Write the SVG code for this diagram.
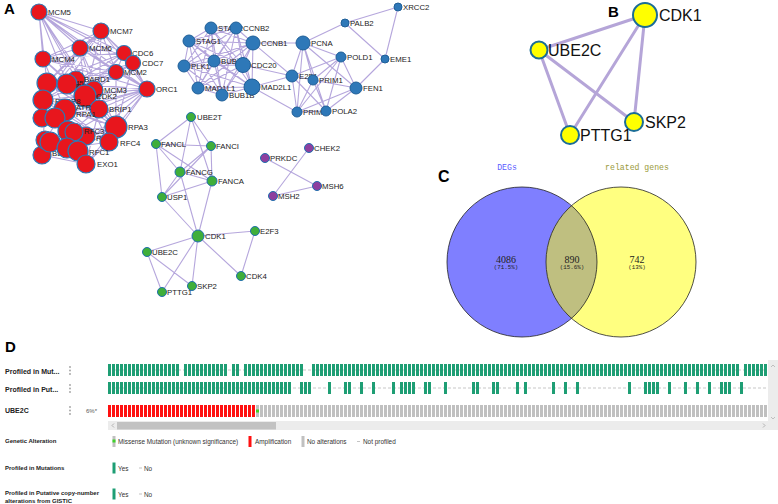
<svg xmlns="http://www.w3.org/2000/svg" width="778" height="504" viewBox="0 0 778 504">
<style>
.lbl{font-family:"Liberation Sans",Arial,sans-serif;font-size:7.8px;fill:#222}
.pl{font-family:"Liberation Sans",Arial,sans-serif;font-weight:bold;fill:#000}
.e{stroke:#9c88d0;stroke-width:1.1;fill:none;stroke-opacity:.75}
.rn{fill:#e8161d;stroke:#2b78b5;stroke-width:1.2}
.bn{fill:#2e78b8;stroke:#1f5f98;stroke-width:1}
.gn{fill:#3fae3a;stroke:#1f6fae;stroke-width:1}
.pn{fill:#8d3f9f;stroke:#1f6fae;stroke-width:1}
.bl{font-family:"Liberation Sans",Arial,sans-serif;font-size:16px;fill:#111}
.yn{fill:#ffff00;stroke:#1b6d96;stroke-width:2}
.be{stroke:#b5a5d8;stroke-width:3;fill:none}
.row{font-family:"Liberation Sans",Arial,sans-serif;font-size:7px;font-weight:bold;fill:#222}
.lg{font-family:"Liberation Sans",Arial,sans-serif;font-size:6.4px;fill:#333}
.lgb{font-family:"Liberation Sans",Arial,sans-serif;font-size:6px;font-weight:bold;fill:#222}
.vn{font-family:"Liberation Serif","Times New Roman",serif;font-size:10px;fill:#222;text-anchor:middle}
.vp{font-family:"Liberation Mono","Courier New",monospace;font-size:5.8px;fill:#222;text-anchor:middle}
.dash{stroke:#b0b0b0;stroke-width:.7;stroke-dasharray:3 2}
.dot{fill:#a0a0a0}
</style>
<defs>
<pattern id="pg" patternUnits="userSpaceOnUse" x="108" y="0" width="4" height="504"><rect width="3" height="504" fill="#1e9e74"/></pattern>
<pattern id="pr" patternUnits="userSpaceOnUse" x="108" y="0" width="4" height="504"><rect width="3" height="504" fill="#ff1010"/></pattern>
<pattern id="pk" patternUnits="userSpaceOnUse" x="108" y="0" width="4" height="504"><rect width="3" height="504" fill="#c0c0c0"/></pattern>
<clipPath id="cl"><circle cx="522" cy="262" r="75"/></clipPath>
</defs>
<rect width="778" height="504" fill="#fff"/>

<!-- Panel letters -->
<text class="pl" x="4" y="14" font-size="15">A</text>
<text class="pl" x="608" y="17" font-size="15">B</text>
<text class="pl" x="438" y="182" font-size="16">C</text>
<text class="pl" x="5" y="352" font-size="15">D</text>

<!-- Panel A connectors -->
<g id="connectors-A">
<path class="e" d="M39 12L101 31M39 12L80 48M39 12L43 59M39 12L124 53M39 12L133 63M39 12L116 72M39 12L147 89M39 12L47 83M39 12L67 83M39 12L85 95M39 12L99 109M39 12L116 127M101 31L80 48M101 31L43 59M101 31L124 53M101 31L133 63M101 31L116 72M101 31L147 89M101 31L47 83M101 31L67 83M101 31L85 95M101 31L43 100M101 31L99 109M80 48L43 59M80 48L124 53M80 48L116 72M80 48L147 89M80 48L47 83M80 48L85 95M80 48L43 100M80 48L99 109M80 48L116 127M43 59L124 53M43 59L116 72M43 59L147 89M43 59L85 95M43 59L99 109M43 59L116 127M43 59L65 110M124 53L133 63M124 53L116 72M124 53L147 89M124 53L47 83M124 53L85 95M124 53L43 100M124 53L65 110M133 63L116 72M133 63L147 89M133 63L67 83M133 63L65 110M133 63L116 127M116 72L147 89M116 72L47 83M116 72L85 95M116 72L43 100M116 72L55 117M116 72L116 127M147 89L47 83M147 89L67 83M147 89L85 95M147 89L43 100M147 89L65 110M147 89L99 109M147 89L55 117M147 89L116 127M147 89L109 142M147 89L74 132M147 89L78 150M147 89L86 164M116 127L85 95M116 127L65 110M116 127L43 100M116 127L68 131M116 127L86 136M116 127L109 142M116 127L78 150M116 127L86 164M116 127L42 155M116 127L47 83M109 142L86 164M109 142L65 110M109 142L67 148M109 142L43 100M109 142L85 95M99 109L42 118M99 109L42 155M99 109L47 83M86 164L42 155M86 164L65 110M86 164L43 100M86 164L99 109M47 83L42 155M43 100L99 109M65 110L45 140M85 95L42 118"/>
<path class="e" d="M211 28L236 28M211 28L189 41M211 28L253 43M211 28L184 66M211 28L214 61M211 28L243 65M211 28L198 88M211 28L222 95M211 28L252 87M236 28L189 41M236 28L253 43M236 28L184 66M236 28L214 61M236 28L243 65M236 28L198 88M236 28L222 95M236 28L252 87M189 41L253 43M189 41L184 66M189 41L214 61M189 41L243 65M189 41L198 88M189 41L222 95M189 41L252 87M253 43L184 66M253 43L214 61M253 43L243 65M253 43L198 88M253 43L222 95M253 43L252 87M184 66L214 61M184 66L243 65M184 66L198 88M184 66L222 95M184 66L252 87M214 61L243 65M214 61L198 88M214 61L222 95M214 61L252 87M243 65L198 88M243 65L222 95M243 65L252 87M198 88L222 95M198 88L252 87M222 95L252 87"/>
<path class="e" d="M303 43L253 43M303 43L292 76M303 43L313 80M303 43L297 112M303 43L326 111M303 43L356 88M303 43L341 57M303 43L345 23M292 76L313 80M292 76L297 112M292 76L326 111M292 76L356 88M292 76L341 57M292 76L252 87M292 76L243 65M292 76L253 43M313 80L356 88M313 80L297 112M313 80L326 111M313 80L341 57M341 57L356 88M341 57L326 111M341 57L297 112M356 88L326 111M356 88L297 112M356 88L385 59M297 112L326 111M252 87L297 112M345 23L398 7M345 23L385 59M398 7L385 59"/>
<path class="e" d="M191 117L156 144M191 117L211 146M191 117L180 172M191 117L212 181M156 144L211 146M156 144L180 172M156 144L212 181M156 144L162 197M211 146L180 172M211 146L212 181M211 146L162 197M180 172L212 181M180 172L162 197M180 172L198 236M212 181L162 197M212 181L198 236M162 197L198 236M198 236L255 231M198 236L147 252M198 236L192 286M198 236L162 292M198 236L241 276M255 231L241 276M147 252L162 292M147 252L192 286"/>
<path class="e" d="M265 158L317 186M309 148L273 196M273 196L317 186"/>
</g>

<!-- Red cluster -->
<g id="n-MCM5"><circle class="rn" cx="39" cy="12" r="8"/><text class="lbl" x="48" y="15">MCM5</text></g>
<g id="n-MCM7"><circle class="rn" cx="101" cy="31" r="8"/><text class="lbl" x="110" y="34">MCM7</text></g>
<g id="n-MCM6"><circle class="rn" cx="80" cy="48" r="8"/><text class="lbl" x="89" y="51">MCM6</text></g>
<g id="n-MCM4"><circle class="rn" cx="43" cy="59" r="8"/><text class="lbl" x="52" y="62">MCM4</text></g>
<g id="n-CDC6"><circle class="rn" cx="124" cy="53" r="7.5"/><text class="lbl" x="132" y="56">CDC6</text></g>
<g id="n-CDC7"><circle class="rn" cx="133" cy="63" r="7.5"/><text class="lbl" x="142" y="66">CDC7</text></g>
<g id="n-MCM2"><circle class="rn" cx="116" cy="72" r="7.5"/><text class="lbl" x="124" y="75">MCM2</text></g>
<g id="n-ORC1"><circle class="rn" cx="147" cy="89" r="8"/><text class="lbl" x="156" y="92">ORC1</text></g>
<g id="n-BARD1"><circle class="rn" cx="76" cy="80" r="9"/><text class="lbl" x="84" y="82">BARD1</text></g>
<g id="n-CDC45"><circle class="rn" cx="47" cy="83" r="10"/><text class="lbl" x="58" y="86">CDC45</text></g>
<g id="n-DBF4"><circle class="rn" cx="67" cy="84" r="10"/><text class="lbl" x="76" y="89">DBF4</text></g>
<g id="n-MCM3"><circle class="rn" cx="94" cy="90" r="9"/><text class="lbl" x="104" y="93">MCM3</text></g>
<g id="n-CDK2"><circle class="rn" cx="85" cy="96" r="11"/><text class="lbl" x="96" y="99">CDK2</text></g>
<g id="n-RBBP8"><circle class="rn" cx="43" cy="100" r="10"/><text class="lbl" x="55" y="104">RBBP8</text></g>
<g id="n-BRIP1"><circle class="rn" cx="99" cy="109" r="9"/><text class="lbl" x="109" y="112">BRIP1</text></g>
<g id="n-RPA2"><circle class="rn" cx="42" cy="118" r="9"/></g>
<g id="n-ATR"><circle class="rn" cx="65" cy="110" r="11"/><text class="lbl" x="76" y="110">ATR</text></g>
<g id="n-RPA1"><circle class="rn" cx="55" cy="118" r="10"/><text class="lbl" x="76" y="117">RPA1</text></g>
<g id="n-RFC2"><circle class="rn" cx="86" cy="136" r="9"/><text class="lbl" x="96" y="141">RFC2</text></g>
<g id="n-RPA3"><circle class="rn" cx="116" cy="127" r="11"/><text class="lbl" x="128" y="130">RPA3</text></g>
<g id="n-RFC5"><circle class="rn" cx="68" cy="131" r="10"/></g>
<g id="n-RFC3"><circle class="rn" cx="74" cy="132" r="9"/><text class="lbl" x="84" y="134">RFC3</text></g>
<g id="n-BLM"><circle class="rn" cx="42" cy="155" r="9"/><text class="lbl" x="52" y="156">BLM</text></g>
<g id="n-POLE"><circle class="rn" cx="45" cy="140" r="9"/></g>
<g id="n-POLA1"><circle class="rn" cx="50" cy="142" r="10"/></g>
<g id="n-RFC4"><circle class="rn" cx="109" cy="142" r="9"/><text class="lbl" x="120" y="146">RFC4</text></g>
<g id="n-TOPBP1"><circle class="rn" cx="67" cy="148" r="10"/></g>
<g id="n-RFC1"><circle class="rn" cx="78" cy="151" r="10"/><text class="lbl" x="89" y="155">RFC1</text></g>
<g id="n-EXO1"><circle class="rn" cx="86" cy="164" r="9"/><text class="lbl" x="97" y="167">EXO1</text></g>

<!-- Blue cluster -->
<g id="n-STAG2"><circle class="bn" cx="211" cy="28" r="6"/><text class="lbl" x="218" y="31">STAG2</text></g>
<g id="n-CCNB2"><circle class="bn" cx="236" cy="28" r="6"/><text class="lbl" x="243" y="31">CCNB2</text></g>
<g id="n-STAG1"><circle class="bn" cx="189" cy="41" r="6"/><text class="lbl" x="196" y="44">STAG1</text></g>
<g id="n-CCNB1"><circle class="bn" cx="253" cy="43" r="7"/><text class="lbl" x="261" y="46">CCNB1</text></g>
<g id="n-PCNA"><circle class="bn" cx="303" cy="43" r="7"/><text class="lbl" x="311" y="46">PCNA</text></g>
<g id="n-PALB2"><circle class="bn" cx="345" cy="23" r="4"/><text class="lbl" x="350" y="26">PALB2</text></g>
<g id="n-XRCC2"><circle class="bn" cx="398" cy="7" r="4"/><text class="lbl" x="403" y="10">XRCC2</text></g>
<g id="n-POLD1"><circle class="bn" cx="341" cy="57" r="5"/><text class="lbl" x="347" y="60">POLD1</text></g>
<g id="n-EME1"><circle class="bn" cx="385" cy="59" r="4"/><text class="lbl" x="390" y="62">EME1</text></g>
<g id="n-PLK1"><circle class="bn" cx="184" cy="66" r="6"/><text class="lbl" x="191" y="69">PLK1</text></g>
<g id="n-BUB1"><circle class="bn" cx="214" cy="61" r="6"/><text class="lbl" x="221" y="64">BUB1</text></g>
<g id="n-CDC20"><circle class="bn" cx="243" cy="65" r="7.5"/><text class="lbl" x="251" y="68">CDC20</text></g>
<g id="n-E2F1"><circle class="bn" cx="292" cy="76" r="6"/><text class="lbl" x="299" y="79">E2F1</text></g>
<g id="n-PRIM1"><circle class="bn" cx="313" cy="80" r="5"/><text class="lbl" x="319" y="83">PRIM1</text></g>
<g id="n-FEN1"><circle class="bn" cx="356" cy="88" r="6"/><text class="lbl" x="363" y="91">FEN1</text></g>
<g id="n-MAD1L1"><circle class="bn" cx="198" cy="88" r="6"/><text class="lbl" x="205" y="91">MAD1L1</text></g>
<g id="n-BUB1B"><circle class="bn" cx="222" cy="95" r="6"/><text class="lbl" x="229" y="98">BUB1B</text></g>
<g id="n-MAD2L1"><circle class="bn" cx="252" cy="87" r="8"/><text class="lbl" x="261" y="90">MAD2L1</text></g>
<g id="n-PRIM2"><circle class="bn" cx="297" cy="112" r="5"/><text class="lbl" x="303" y="115">PRIM2</text></g>
<g id="n-POLA2"><circle class="bn" cx="326" cy="111" r="5"/><text class="lbl" x="332" y="114">POLA2</text></g>

<!-- Green cluster -->
<g id="n-UBE2T"><circle class="gn" cx="191" cy="117" r="4.5"/><text class="lbl" x="197" y="120">UBE2T</text></g>
<g id="n-FANCL"><circle class="gn" cx="156" cy="144" r="4.5"/><text class="lbl" x="161" y="147">FANCL</text></g>
<g id="n-FANCI"><circle class="gn" cx="211" cy="146" r="4.5"/><text class="lbl" x="216" y="149">FANCI</text></g>
<g id="n-FANCG"><circle class="gn" cx="180" cy="172" r="5"/><text class="lbl" x="186" y="175">FANCG</text></g>
<g id="n-FANCA"><circle class="gn" cx="212" cy="181" r="5"/><text class="lbl" x="218" y="184">FANCA</text></g>
<g id="n-USP1"><circle class="gn" cx="162" cy="197" r="4.5"/><text class="lbl" x="167" y="200">USP1</text></g>
<g id="n-CDK1a"><circle class="gn" cx="198" cy="236" r="6"/><text class="lbl" x="205" y="239">CDK1</text></g>
<g id="n-E2F3"><circle class="gn" cx="255" cy="231" r="4.5"/><text class="lbl" x="260" y="234">E2F3</text></g>
<g id="n-UBE2Ca"><circle class="gn" cx="147" cy="252" r="4.5"/><text class="lbl" x="152" y="255">UBE2C</text></g>
<g id="n-CDK4"><circle class="gn" cx="241" cy="276" r="4.5"/><text class="lbl" x="246" y="279">CDK4</text></g>
<g id="n-SKP2a"><circle class="gn" cx="192" cy="286" r="4.5"/><text class="lbl" x="197" y="289">SKP2</text></g>
<g id="n-PTTG1a"><circle class="gn" cx="162" cy="292" r="4.5"/><text class="lbl" x="167" y="295">PTTG1</text></g>

<!-- Purple cluster -->
<g id="n-PRKDC"><circle class="pn" cx="265" cy="158" r="4.5"/><text class="lbl" x="270" y="161">PRKDC</text></g>
<g id="n-CHEK2"><circle class="pn" cx="309" cy="148" r="4.5"/><text class="lbl" x="314" y="151">CHEK2</text></g>
<g id="n-MSH6"><circle class="pn" cx="317" cy="186" r="4.5"/><text class="lbl" x="322" y="189">MSH6</text></g>
<g id="n-MSH2"><circle class="pn" cx="273" cy="196" r="4.5"/><text class="lbl" x="278" y="199">MSH2</text></g>

<!-- Panel B -->
<g id="connectors-B">
<path class="be" d="M645 15L539 50M645 15L570 135M645 15L634 122M539 50L570 135M539 50L634 122"/>
</g>
<g id="b-CDK1"><circle class="yn" cx="645" cy="15" r="12"/><text class="bl" x="659" y="21">CDK1</text></g>
<g id="b-UBE2C"><circle class="yn" cx="539" cy="50" r="8.5"/><text class="bl" x="548" y="56">UBE2C</text></g>
<g id="b-SKP2"><circle class="yn" cx="634" cy="122" r="9"/><text class="bl" x="645" y="128">SKP2</text></g>
<g id="b-PTTG1"><circle class="yn" cx="570" cy="135" r="9"/><text class="bl" x="580" y="141">PTTG1</text></g>

<!-- Panel C Venn -->
<g id="venn">
<circle cx="522" cy="262" r="75" fill="#7f7fff"/>
<circle cx="621" cy="262" r="75" fill="#ffff80"/>
<circle cx="621" cy="262" r="75" fill="#bfbf80" clip-path="url(#cl)"/>
<circle cx="522" cy="262" r="75" fill="none" stroke="#222" stroke-width=".8"/>
<circle cx="621" cy="262" r="75" fill="none" stroke="#222" stroke-width=".8"/>
<text x="507" y="170" font-family="'Liberation Mono','Courier New',monospace" font-size="8.2" fill="#5b5bff" text-anchor="middle">DEGs</text>
<text x="637" y="170" font-family="'Liberation Mono','Courier New',monospace" font-size="8.2" fill="#9a9a3a" text-anchor="middle">related genes</text>
<text class="vn" x="506" y="263">4086</text>
<text class="vp" x="506" y="269">(71.5%)</text>
<text class="vn" x="572" y="263">890</text>
<text class="vp" x="572" y="269">(15.6%)</text>
<text class="vn" x="637" y="263">742</text>
<text class="vp" x="637" y="269">(13%)</text>
</g>

<!-- Panel D oncoprint -->
<g id="oncoprint">
<rect x="768" y="360" width="10" height="70" fill="#ececec"/>
<polyline points="771,367 773,365 775,367" fill="none" stroke="#aaa" stroke-width=".7"/>
<polyline points="771,417 773,419 775,417" fill="none" stroke="#aaa" stroke-width=".7"/>
<text class="row" x="5" y="373.5">Profiled in Mut...</text>
<text class="row" x="5" y="391.5">Profiled in Put...</text>
<text class="row" x="5" y="413">UBE2C</text>
<circle class="dot" cx="70" cy="367" r=".9"/><circle class="dot" cx="70" cy="370.5" r=".9"/><circle class="dot" cx="70" cy="374" r=".9"/>
<circle class="dot" cx="70" cy="385" r=".9"/><circle class="dot" cx="70" cy="388.5" r=".9"/><circle class="dot" cx="70" cy="392" r=".9"/>
<circle class="dot" cx="70" cy="407" r=".9"/><circle class="dot" cx="70" cy="410.5" r=".9"/><circle class="dot" cx="70" cy="414" r=".9"/>
<text x="86" y="413" font-family="'Liberation Sans',Arial,sans-serif" font-size="6" fill="#555">6%*</text>
<line class="dash" x1="108" y1="370" x2="767" y2="370"/>
<line class="dash" x1="108" y1="388" x2="767" y2="388"/>
<g fill="url(#pg)">
<rect x="108" y="364" width="71" height="12"/>
<rect x="184" y="364" width="43" height="12"/>
<rect x="232" y="364" width="7" height="12"/>
<rect x="244" y="364" width="59" height="12"/>
<rect x="312" y="364" width="427" height="12"/>
<rect x="744" y="364" width="23" height="12"/>
<rect x="108" y="382" width="183" height="12"/>
<rect x="300" y="382" width="11" height="12"/>
<rect x="328" y="382" width="3" height="12"/>
<rect x="344" y="382" width="7" height="12"/>
<rect x="360" y="382" width="3" height="12"/>
<rect x="372" y="382" width="3" height="12"/>
<rect x="392" y="382" width="3" height="12"/>
<rect x="400" y="382" width="15" height="12"/>
<rect x="424" y="382" width="7" height="12"/>
<rect x="444" y="382" width="3" height="12"/>
<rect x="472" y="382" width="7" height="12"/>
<rect x="492" y="382" width="7" height="12"/>
<rect x="516" y="382" width="3" height="12"/>
<rect x="524" y="382" width="3" height="12"/>
<rect x="552" y="382" width="3" height="12"/>
<rect x="564" y="382" width="3" height="12"/>
<rect x="576" y="382" width="3" height="12"/>
<rect x="628" y="382" width="3" height="12"/>
<rect x="644" y="382" width="15" height="12"/>
<rect x="668" y="382" width="3" height="12"/>
<rect x="684" y="382" width="3" height="12"/>
<rect x="696" y="382" width="3" height="12"/>
<rect x="708" y="382" width="3" height="12"/>
<rect x="720" y="382" width="11" height="12"/>
<rect x="740" y="382" width="3" height="12"/>
</g>
<rect x="108" y="405" width="147" height="12" fill="url(#pr)"/>
<rect x="256" y="405" width="511" height="12" fill="url(#pk)"/>
<rect x="256" y="409.5" width="3" height="3" fill="#3fd12a"/>
<rect x="108" y="421" width="670" height="9" fill="#ececec"/>
<rect x="117" y="422" width="159" height="7.5" fill="#c2c2c2"/>
<polyline points="114,423.5 112,425.5 114,427.5" fill="none" stroke="#999" stroke-width=".7"/>
<polyline points="763,423.5 765,425.5 763,427.5" fill="none" stroke="#999" stroke-width=".7"/>
</g>

<!-- Legend -->
<g id="legend">
<text class="lgb" x="5" y="443">Genetic Alteration</text>
<rect x="112.5" y="436" width="3" height="11" fill="#c0c0c0"/>
<rect x="112.5" y="439.5" width="3" height="3" fill="#3fd12a"/>
<text class="lg" x="118" y="443.5">Missense Mutation (unknown significance)</text>
<rect x="248.5" y="436" width="3" height="11" fill="#ff1010"/>
<text class="lg" x="255" y="443.5">Amplification</text>
<rect x="301.5" y="436" width="3" height="11" fill="#c0c0c0"/>
<text class="lg" x="307" y="443.5">No alterations</text>
<line x1="357" y1="441.5" x2="360" y2="441.5" stroke="#aaa" stroke-width=".7"/>
<text class="lg" x="363" y="443.5">Not profiled</text>
<text class="lgb" x="5" y="469.5">Profiled in Mutations</text>
<rect x="112.5" y="462.5" width="3" height="11" fill="#1e9e74"/>
<text class="lg" x="118" y="470.5">Yes</text>
<line x1="139" y1="468" x2="142" y2="468" stroke="#aaa" stroke-width=".7"/>
<text class="lg" x="144" y="470.5">No</text>
<text class="lgb" x="5" y="495">Profiled in Putative copy-number</text>
<text class="lgb" x="5" y="502.5">alterations from GISTIC</text>
<rect x="112.5" y="488.5" width="3" height="11" fill="#1e9e74"/>
<text class="lg" x="118" y="496.5">Yes</text>
<line x1="139" y1="494" x2="142" y2="494" stroke="#aaa" stroke-width=".7"/>
<text class="lg" x="144" y="496.5">No</text>
</g>
</svg>
